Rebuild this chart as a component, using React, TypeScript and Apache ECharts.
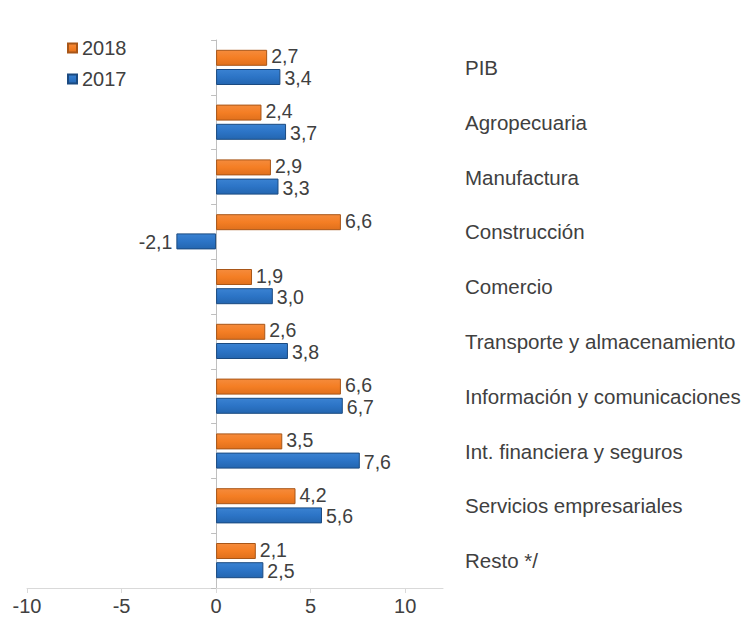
import React, { useEffect, useRef } from "react";
import * as echarts from "echarts";

const categories = [
  "PIB",
  "Agropecuaria",
  "Manufactura",
  "Construcción",
  "Comercio",
  "Transporte y almacenamiento",
  "Información y comunicaciones",
  "Int. financiera y seguros",
  "Servicios empresariales",
  "Resto */",
];
const values2018 = [2.7, 2.4, 2.9, 6.6, 1.9, 2.6, 6.6, 3.5, 4.2, 2.1];
const values2017 = [3.4, 3.7, 3.3, -2.1, 3.0, 3.8, 6.7, 7.6, 5.6, 2.5];
const xTicks = { min: -10, max: 12, interval: 5 };

const FONT = "'Liberation Sans', Arial, sans-serif";
const TEXT = "#404040";

const fmt = (v: number) => v.toFixed(1).replace(".", ",");

const toData = (arr: number[]) =>
  arr.map((v) =>
    v < 0 ? { value: v, label: { position: "left" as const } } : { value: v }
  );

export default function App() {
  const ref = useRef<HTMLDivElement>(null);
  useEffect(() => {
    if (!ref.current) return;
    const chart = echarts.init(ref.current, null, { renderer: "svg" });
    const labelCfg = (dy: number) => ({
      show: true,
      position: "right" as const,
      distance: 4,
      offset: [0, dy],
      color: TEXT,
      fontSize: 19.5,
      lineHeight: 17,
      fontFamily: FONT,
      formatter: (p: any) => fmt(p.value),
    });
    chart.setOption({
      animation: false,
      backgroundColor: "#ffffff",
      textStyle: { fontFamily: FONT },
      legend: {
        orient: "vertical",
        left: 62,
        top: 33,
        itemWidth: 9,
        itemHeight: 9,
        itemGap: 11,
        icon: "rect",
        textStyle: { color: TEXT, fontSize: 20, fontFamily: FONT },
        data: ["2018", "2017"],
      },
      grid: { left: 27, right: 305, top: 40, bottom: 40, containLabel: false },
      xAxis: {
        type: "value",
        min: xTicks.min,
        max: xTicks.max,
        interval: xTicks.interval,
        splitLine: { show: false },
        axisLine: { show: true, lineStyle: { color: "#d9d9d9" } },
        axisTick: { show: true, length: 5, lineStyle: { color: "#d9d9d9" } },
        axisLabel: {
          color: TEXT,
          fontSize: 20,
          fontFamily: FONT,
          margin: 8,
          showMaxLabel: false,
          formatter: (v: number) => (v === 12 ? "" : String(v)),
        },
      },
      yAxis: [
        {
          type: "category",
          data: categories,
          inverse: true,
          axisLine: { show: true, onZero: true, lineStyle: { color: "#bfbfbf" } },
          axisTick: { show: true, length: 5, lineStyle: { color: "#bfbfbf" } },
          axisLabel: { show: false },
        },
        {
          type: "category",
          data: categories,
          inverse: true,
          position: "right",
          axisLine: { show: false },
          axisTick: { show: false },
          axisLabel: {
            show: true,
            align: "left",
            margin: 22,
            color: TEXT,
            fontSize: 20.5,
            fontFamily: FONT,
          },
        },
      ],
      series: [
        {
          name: "2018",
          type: "bar",
          yAxisIndex: 0,
          data: toData(values2018),
          barWidth: 16,
          barGap: "20%",
          itemStyle: {
            color: new echarts.graphic.LinearGradient(0, 0, 0, 1, [
              { offset: 0, color: "#F58B3C" },
              { offset: 0.5, color: "#F47E24" },
              { offset: 1, color: "#E0701C" },
            ]),
            borderColor: "#A85618",
            borderWidth: 1,
          },
          label: labelCfg(-1.5),
        },
        {
          name: "2017",
          type: "bar",
          yAxisIndex: 0,
          data: toData(values2017),
          barWidth: 16,
          barGap: "20%",
          itemStyle: {
            color: new echarts.graphic.LinearGradient(0, 0, 0, 1, [
              { offset: 0, color: "#3A82D2" },
              { offset: 0.5, color: "#2C74C6" },
              { offset: 1, color: "#2466B0" },
            ]),
            borderColor: "#1B4A80",
            borderWidth: 1,
          },
          label: labelCfg(1),
        },
      ],
    });
    return () => chart.dispose();
  }, []);
  return (
    <div
      ref={ref}
      style={{ position: "fixed", left: 0, top: 0, width: 748, height: 628 }}
    />
  );
}
